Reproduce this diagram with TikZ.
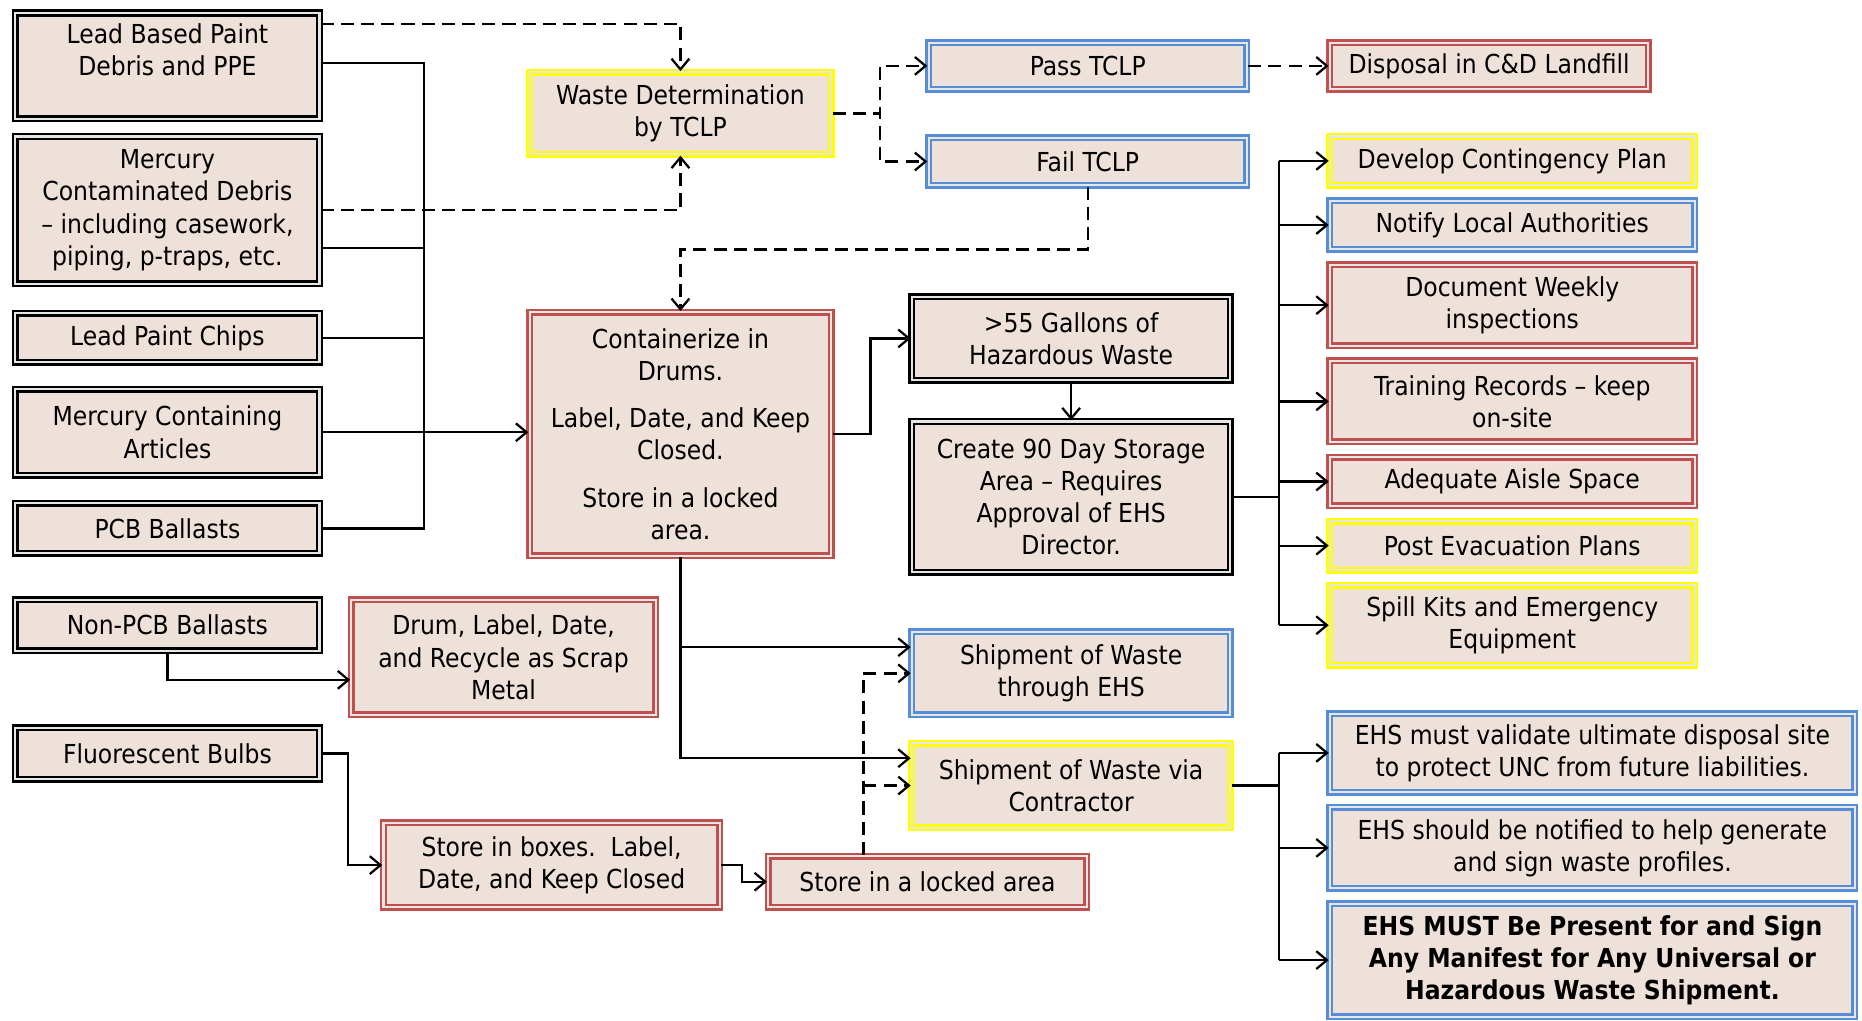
\documentclass[tikz,border=0pt]{standalone}
\usepackage{fontspec}
\IfFontExistsTF{DejaVu Sans Condensed}{\setmainfont{DejaVu Sans Condensed}}{\setmainfont{DejaVu Sans}}
\usetikzlibrary{arrows.meta}
\definecolor{boxfill}{HTML}{EEE1D9}
\definecolor{bred}{HTML}{C0504D}
\definecolor{bblue}{HTML}{558ED5}
\definecolor{byel}{HTML}{FFFF00}
\definecolor{gapcol}{HTML}{E6E6E6}
\begin{document}
\begin{tikzpicture}[x=1pt,y=-1pt,
  box/.style={draw=#1, double=gapcol, double distance=1.7pt, line width=2.1pt, fill=boxfill, align=center, inner sep=0pt, font=\fontsize{22}{27}\selectfont},
  bk/.style={box=black},
  rd/.style={box=bred},
  bl/.style={box=bblue},
  yl/.style={box=byel},
  sz/.style 2 args={minimum width=#1pt-5.9pt, minimum height=#2pt-5.9pt},
  ln/.style={line width=1.9pt},
  con/.style={line width=1.9pt, -{Straight Barb[length=9pt,width=15pt,line width=1.9pt]}},
  dshl/.style={line width=2pt, dash pattern=on 11pt off 6pt},
  dsh/.style={dshl, -{Straight Barb[length=9pt,width=15pt,line width=1.9pt]}}
]
\fill[white] (0,0) rectangle (1568,859);
\path[use as bounding box] (0,0) rectangle (1568,859);

% left column
\node[bk, sz={262}{95}] (lbp) at (141,55.5) {Lead Based Paint\\Debris and PPE\\\mbox{}};
\node[bk, sz={262}{130}] (mcd) at (141,177) {Mercury\\Contaminated Debris\\– including casework,\\piping, p-traps, etc.};
\node[bk, sz={262}{47}] (lpc) at (141,284.5) {Lead Paint Chips};
\node[bk, sz={262}{78}] (mca) at (141,364) {Mercury Containing\\Articles};
\node[bk, sz={262}{48}] (pcb) at (141,445) {PCB Ballasts};
\node[bk, sz={262}{49}] (npcb) at (141,526.5) {Non-PCB Ballasts};
\node[bk, sz={262}{49}] (flb) at (141,634.5) {Fluorescent Bulbs};

% middle
\node[yl, sz={260}{75}] (wd) at (573,95.5) {Waste Determination\\by TCLP};
\node[bl, sz={274}{45}] (pass) at (916,55.5) {Pass TCLP};
\node[bl, sz={274}{46}] (fail) at (916,136) {Fail TCLP};
\node[rd, sz={274}{45}] (disp) at (1254,55.5) {Disposal in C\&D Landfill};
\node[rd, sz={260}{211}] (cont) at (573,365.5) {Containerize in\\Drums.\\[13pt]Label, Date, and Keep\\Closed.\\[13pt]Store in a locked\\area.};
\node[bk, sz={274}{76}] (gal) at (902,285) {>55 Gallons of\\Hazardous Waste};
\node[bk, sz={274}{133}] (c90) at (902,418.5) {Create 90 Day Storage\\Area – Requires\\Approval of EHS\\Director.};
\node[rd, sz={262}{103}] (drum) at (424,553.5) {Drum, Label, Date,\\and Recycle as Scrap\\Metal};
\node[bl, sz={274}{76}] (sehs) at (902,567) {Shipment of Waste\\through EHS};
\node[yl, sz={274}{77}] (scon) at (902,661.5) {Shipment of Waste via\\Contractor};
\node[rd, sz={289}{77}] (sbox) at (464.5,728.5) {Store in boxes.\ \ Label,\\Date, and Keep Closed};
\node[rd, sz={274}{49}] (slock) at (781,742.5) {Store in a locked area};

% right column
\node[yl, sz={313}{47}] (dev) at (1273.5,135.5) {Develop Contingency Plan};
\node[bl, sz={313}{47}] (notif) at (1273.5,189.5) {Notify Local Authorities};
\node[rd, sz={313}{74}] (doc) at (1273.5,257) {Document Weekly\\inspections};
\node[rd, sz={313}{74}] (train) at (1273.5,338) {Training Records – keep\\on-site};
\node[rd, sz={313}{47}] (aisle) at (1273.5,405.5) {Adequate Aisle Space};
\node[yl, sz={313}{47}] (evac) at (1273.5,459.5) {Post Evacuation Plans};
\node[yl, sz={313}{73}] (spill) at (1273.5,526.5) {Spill Kits and Emergency\\Equipment};
\node[bl, sz={448}{72}] (val) at (1341,634) {EHS must validate ultimate disposal site\\to protect UNC from future liabilities.};
\node[bl, sz={448}{74}] (ntf) at (1341,714) {EHS should be notified to help generate\\and sign waste profiles.};
\node[bl, sz={448}{101}, font=\fontsize{22}{27}\selectfont\bfseries] (must) at (1341,808.5) {EHS MUST Be Present for and Sign\\Any Manifest for Any Universal or\\Hazardous Waste Shipment.};

% helper coordinates
\coordinate (y20) at (0,20);
\coordinate (y209) at (0,209);
\coordinate (y210) at (0,210);
\coordinate (bt) at (357,53);
\coordinate (rb) at (1077,0);
\coordinate (dv) at (727,0);

% dashed connectors
\draw[dsh] (lbp.east |- y20) -| (wd.north);
\draw[dsh] (mcd.east) -| (wd.south);
\draw[dsh] (wd.east) -- ++(40,0) |- (pass.west);
\draw[dsh] (wd.east) -- ++(40,0) |- (fail.west);
\draw[dsh] (pass.east) -- (disp.west);
\draw[dsh] (fail.south) -- (fail.south |- y210) -| (cont.north);
\draw[dshl] (slock.north -| dv) -- (dv |- sehs.west);
\draw[dsh] (dv |- sehs.west) -- (sehs.west);
\draw[dsh] (dv |- scon.west) -- (scon.west);

% solid connectors
\draw[ln] (lbp.east |- bt) -- (bt) |- (pcb.east);
\draw[ln] (mcd.east |- y209) -- (bt |- y209);
\draw[ln] (lpc.east) -- (lpc.east -| bt);
\draw[con] (mca.east) -- (mca.east -| cont.west);
\draw[con] (cont.east) -- ++(32,0) |- (gal.west);
\draw[con] (gal.south) -- (c90.north);
\draw[ln] (c90.east) -- (c90.east -| rb);
\draw[ln] (dev.west -| rb) -- (spill.west -| rb);
\foreach \n in {dev,notif,doc,train,aisle,evac,spill}
  \draw[con] (\n.west -| rb) -- (\n.west);
\draw[con] (cont.south) |- ([yshift=22pt]sehs.west);
\draw[con] (cont.south) |- ([yshift=23pt]scon.west);
\draw[con] (npcb.south) |- ([yshift=-19pt]drum.west);
\draw[con] (flb.east) -- ++(23,0) |- (sbox.west);
\draw[con] (sbox.east) -- ++(18,0) |- (slock.west);
\draw[ln] (scon.east) -- (scon.east -| rb);
\draw[ln] (val.west -| rb) -- (must.west -| rb);
\foreach \n in {val,ntf,must}
  \draw[con] (\n.west -| rb) -- (\n.west);
\end{tikzpicture}
\end{document}
